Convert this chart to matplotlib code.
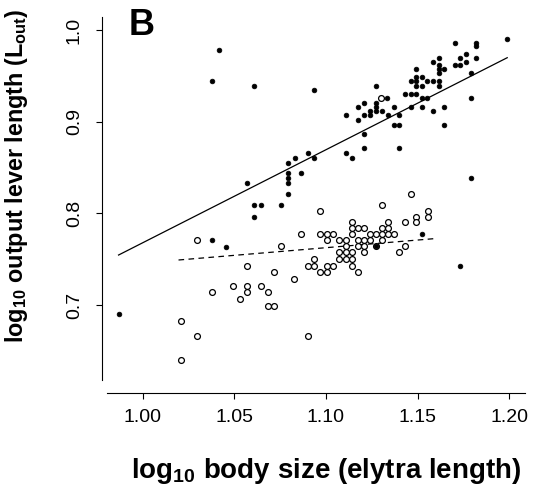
import matplotlib
matplotlib.use("Agg")
import matplotlib.pyplot as plt
import numpy as np

plt.rcParams['font.family'] = ['Liberation Sans', 'DejaVu Sans']
plt.rcParams['mathtext.fontset'] = 'custom'
plt.rcParams['mathtext.rm'] = 'Liberation Sans'
plt.rcParams['mathtext.bf'] = 'Liberation Sans:bold'

# filled points (upper group)
filled_x = [1.0414, 1.0376, 1.0607, 1.0935, 1.0569, 1.0792, 1.0792, 1.0792, 1.0792, 1.0792,
            1.0829, 1.0864, 1.0900, 1.0935, 1.1985, 1.1702, 1.1818, 1.1818, 1.1730, 1.1761,
            1.1761, 1.1818, 1.1702, 1.1730, 1.1790, 1.1583, 1.1614, 1.1614, 1.1614, 1.1643,
            1.1614, 1.1492, 1.1492, 1.1523, 1.1462, 1.1492, 1.1492, 1.1523, 1.1553, 1.1583,
            1.1614, 1.1614, 1.1432, 1.1462, 1.1492, 1.1523, 1.1553, 1.1462, 1.1523, 1.1583,
            1.1643, 1.1643, 1.1790, 1.1271, 1.1334, 1.1271, 1.1271, 1.1271, 1.1208, 1.1175,
            1.1240, 1.1240, 1.1304, 1.1208, 1.1175, 1.1108, 1.1369, 1.1336, 1.1398, 1.1369,
            1.1398, 1.1208, 1.1208, 1.1398, 1.1108, 1.1141, 1.1790, 1.1523, 1.1273, 1.1732,
            1.0607, 1.0647, 1.0607, 1.0755, 1.0376, 1.0454, 0.9869]
filled_y = [0.9782, 0.9441, 0.9393, 0.9349, 0.8328, 0.8553, 0.8444, 0.8383, 0.8328, 0.8212,
            0.8607, 0.8440, 0.8659, 0.8607, 0.9902, 0.9862, 0.9862, 0.9822, 0.9698, 0.9738,
            0.9654, 0.9698, 0.9615, 0.9615, 0.9528, 0.9654, 0.9698, 0.9615, 0.9571, 0.9571,
            0.9528, 0.9571, 0.9484, 0.9484, 0.9441, 0.9441, 0.9393, 0.9393, 0.9441, 0.9441,
            0.9441, 0.9393, 0.9302, 0.9302, 0.9302, 0.9255, 0.9255, 0.9160, 0.9160, 0.9113,
            0.9160, 0.8967, 0.9258, 0.9393, 0.9255, 0.9207, 0.9160, 0.9113, 0.9207, 0.9160,
            0.9113, 0.9070, 0.9113, 0.9070, 0.9019, 0.9070, 0.9160, 0.9070, 0.9070, 0.8967,
            0.8967, 0.8866, 0.8713, 0.8713, 0.8659, 0.8607, 0.8383, 0.7775, 0.7639, 0.7430,
            0.8088, 0.8088, 0.7964, 0.8088, 0.7707, 0.7637, 0.6906]

# open points (lower group)
open_x = [1.0212, 1.0212, 1.0296, 1.0296, 1.0376, 1.0494, 1.0532, 1.0569, 1.0569, 1.0569,
          1.0647, 1.0685, 1.0685, 1.0719, 1.0719, 1.0755, 1.0828, 1.0864, 1.0900, 1.0900,
          1.0935, 1.0935, 1.0965, 1.0970, 1.0970, 1.1004, 1.1039, 1.1004, 1.1004, 1.1039,
          1.1004, 1.1073, 1.1107, 1.1107, 1.1073, 1.1107, 1.1141, 1.1073, 1.1107, 1.1141,
          1.1141, 1.1175, 1.1141, 1.1141, 1.1173, 1.1206, 1.1141, 1.1173, 1.1206, 1.1173,
          1.1206, 1.1206, 1.1238, 1.1271, 1.1238, 1.1304, 1.1304, 1.1336, 1.1336, 1.1336,
          1.1369, 1.1304, 1.1304, 1.1302, 1.1462, 1.1432, 1.1492, 1.1492, 1.1554, 1.1554,
          1.1432, 1.1398, 1.1273]
open_y = [0.6823, 0.6398, 0.6660, 0.7707, 0.7140, 0.7212, 0.7063, 0.7212, 0.7140, 0.7430,
          0.7212, 0.7140, 0.6987, 0.6987, 0.7361, 0.7639, 0.7288, 0.7775, 0.7430, 0.6660,
          0.7503, 0.7430, 0.7361, 0.8026, 0.7775, 0.7775, 0.7775, 0.7707, 0.7430, 0.7430,
          0.7361, 0.7707, 0.7707, 0.7639, 0.7576, 0.7576, 0.7576, 0.7503, 0.7503, 0.7503,
          0.7430, 0.7361, 0.7903, 0.7838, 0.7838, 0.7838, 0.7775, 0.7707, 0.7707, 0.7639,
          0.7639, 0.7576, 0.7775, 0.7775, 0.7707, 0.7707, 0.7838, 0.7838, 0.7903, 0.7775,
          0.7775, 0.7775, 0.8088, 0.9255, 0.8212, 0.7903, 0.7964, 0.7903, 0.8026, 0.7964,
          0.7639, 0.7576, 0.7639]

# fitted lines (slope, intercept, x range)
fit_filled = (1.0156, -0.2477, 0.9869, 1.1988)
fit_open = (0.167, 0.5789, 1.0196, 1.1585)

x_ticks = [1.00, 1.05, 1.10, 1.15, 1.20]
x_ticklabels = ['1.00', '1.05', '1.10', '1.15', '1.20']
y_ticks = [0.7, 0.8, 0.9, 1.0]
y_ticklabels = ['0.7', '0.8', '0.9', '1.0']

fig = plt.figure(figsize=(5.43, 4.99), dpi=100)
ax = fig.add_axes([107/543, 1 - 380/499, (525-107)/543, (380-17)/499])

ax.plot(open_x, open_y, 'o', mfc='white', mec='black', ms=4.2, mew=0.9, zorder=3)
ax.plot(filled_x, filled_y, 'o', mfc='black', mec='black', ms=3.4, mew=0.5, zorder=4)

for (b, a, x0, x1), ls in [(fit_filled, '-'), (fit_open, '--')]:
    xs = np.array([x0, x1])
    line, = ax.plot(xs, a + b * xs, color='black', lw=0.9, ls=ls, zorder=2)
    if ls == '--':
        line.set_dashes((4.5, 3.5))

ax.set_xlim(0.9806, 1.2085)
ax.set_ylim(0.6183, 1.0142)
ax.spines['top'].set_visible(False)
ax.spines['right'].set_visible(False)
ax.spines['left'].set_position(('outward', 3.8))
ax.spines['bottom'].set_position(('outward', 9.1))
for s in ['left', 'bottom']:
    ax.spines[s].set_linewidth(0.8)

ax.set_xticks(x_ticks)
ax.set_xticklabels(x_ticklabels)
ax.set_yticks(y_ticks)
ax.set_yticklabels(y_ticklabels, rotation=90, va='center')
ax.tick_params(axis='both', direction='out', length=4.5, width=0.8, labelsize=14)
ax.tick_params(axis='x', pad=7)
ax.tick_params(axis='y', pad=9)

ax.set_xlabel(r'log$_{\mathbf{10}}$ body size (elytra length)', fontsize=20,
              fontweight='bold')
ax.xaxis.set_label_coords(326.5/543, 1 - 456/499, transform=fig.transFigure)
ax.set_ylabel(r'log$_{\mathbf{10}}$ output lever length (L$_{\mathbf{out}}$)', fontsize=16.8,
              fontweight='bold')
ax.yaxis.set_label_coords(30/543, 1 - 176/499, transform=fig.transFigure)

fig.text(129/543, 1 - 8/499, 'B', fontsize=26, fontweight='bold', va='top', ha='left')

fig.savefig('out.png', dpi=100)
